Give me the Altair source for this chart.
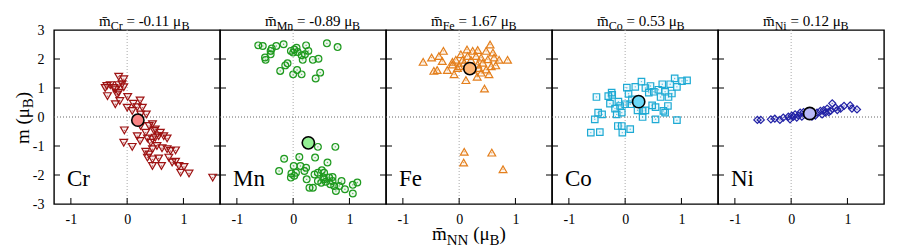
import altair as alt
import pandas as pd

FONT = "Liberation Serif"

ELEMENTS = ["Cr", "Mn", "Fe", "Co", "Ni"]
MEAN_TEXT = ["-0.11", "-0.89", "1.67", "0.53", "0.12"]
MEAN_X = [0.19, 0.27, 0.19, 0.24, 0.33]
MEAN_Y = [-0.11, -0.89, 1.67, 0.53, 0.12]

cr_x = [-0.15, -0.06, -0.36, -0.30, -0.24, -0.15, -0.09, -0.06, -0.39, -0.35, -0.21, -0.18, -0.15,
        -0.21, -0.13, 0.01, 0.11, 0.23, 0.00, 0.09, 0.18, 0.27, 0.34, 0.24, 0.45, 0.39, 0.50, 0.59,
        0.71, -0.05, -0.06, 0.09, 0.18, 0.23, 0.36, 0.45, 0.42, 0.48, 0.56, 0.65, 0.62, 0.77, 0.86,
        0.33, 0.36, 0.45, 0.56, 0.74, 0.80, 0.86, 0.45, 0.61, 0.92, 1.01, 0.95, 1.10, 1.52, 0.39,
        0.24, 0.33, 0.50, 0.53, 0.45, 0.71]
cr_y = [1.39, 1.30, 1.07, 1.10, 1.00, 1.10, 1.13, 1.03, 1.00, 0.72, 0.95, 0.78, 0.84,
        0.44, 0.55, 0.69, 0.46, 0.57, 0.32, 0.21, 0.34, 0.32, 0.09, 0.09, -0.25, -0.31, -0.43, -0.54,
        -0.74, -0.46, -0.89, -1.03, -0.66, -0.83, -0.74, -0.77, -0.89, -0.48, -0.66, -0.66, -1.08, -1.17, -1.15,
        -1.20, -1.40, -1.46, -1.43, -1.40, -1.57, -1.54, -1.69, -1.69, -1.69, -1.72, -1.92, -1.95, -2.09, -1.29,
        -0.31, -0.54, -0.71, -1.00, -1.11, -1.11]

mn_x = [-0.62, -0.54, -0.40, -0.30, -0.17, -0.38, -0.50, -0.49, -0.40, -0.04, 0.02, 0.06, 0.08,
        0.23, 0.27, 0.21, 0.15, 0.17, 0.35, 0.45, 0.60, 0.79, -0.10, -0.14, -0.23, 0.07, 0.00, 0.15,
        0.48, 0.40, 0.00,
        0.44, 0.75, -0.16, 0.11, 0.39, 0.61, -0.25, 0.01, 0.13, 0.23, -0.03, 0.02, -0.04, 0.05, 0.20,
        0.24, 0.38, 0.44, 0.51, 0.55, 0.54, 0.44, 0.50, 0.58, 0.64, 0.70, 0.66, 0.73, 0.76, 0.82,
        0.86, 0.92, 1.06, 1.14, 1.06, 0.29, 0.35, 0.55, 0.70]
mn_y = [2.47, 2.45, 2.28, 2.45, 2.51, 2.36, 2.05, 1.97, 2.16, 2.28, 2.33, 2.39, 2.24,
        2.47, 2.28, 2.16, 2.13, 1.97, 1.97, 2.01, 2.54, 2.41, 1.85, 1.78, 1.59, 1.62, 1.47, 1.47,
        1.53, 1.33, 2.22,
        -1.03, -1.03, -1.44, -1.38, -1.40, -1.57, -1.86, -1.69, -1.69, -1.75, -1.95, -2.03, -2.09, -1.92, -1.86,
        -2.15, -1.98, -1.92, -1.84, -1.92, -2.09, -2.21, -2.27, -2.23, -2.09, -2.07, -2.32, -2.38, -2.55, -2.38,
        -2.21, -2.49, -2.34, -2.26, -2.64, -2.44, -2.44, -2.15, -2.21]

fe_x = [-0.64, -0.49, -0.28, -0.36, -0.30, -0.45, -0.39, -0.21, -0.09, -0.12, -0.06, 0.03, 0.14,
        0.24, 0.33, 0.55, 0.48, 0.60, 0.39, 0.51, 0.71, 0.86, 0.65, 0.53, 0.39, 0.32, 0.12, 0.45,
        0.00, 0.09, 0.21, 0.30, 0.42, 0.57, -0.03, -0.12, 0.06, 0.15, 0.35, 0.48, 0.62, 0.24, 0.33,
        0.09, 0.58, 0.08, 0.78]
fe_y = [1.90, 2.05, 2.28, 2.10, 1.93, 1.59, 1.62, 1.62, 1.47, 1.90, 1.97, 2.16, 2.33,
        2.28, 2.31, 2.50, 2.28, 2.22, 2.05, 1.99, 1.97, 1.97, 1.78, 1.47, 1.53, 1.39, 1.27, 0.98,
        1.75, 1.87, 1.97, 2.10, 1.87, 1.75, 1.69, 1.81, 1.97, 2.10, 1.69, 1.64, 2.05, 1.64, 1.81,
        -1.20, -1.23, -1.57, -1.80]

co_x = [-0.51, -0.30, -0.24, -0.23, -0.27, -0.12, -0.09, -0.18, -0.15, -0.06, -0.48, -0.41, -0.54,
        -0.61, -0.45, -0.13, -0.06, -0.05, 0.09, 0.03, 0.18, 0.29, 0.36, 0.45, 0.51, 0.42, 0.66,
        0.80, 0.88, 1.01, 1.10, 0.92, 0.77, 0.63, 0.48, 0.54, 0.31, 0.22, 0.36, 0.68, 0.71, 0.76,
        0.31, 0.54, 0.92, 0.06, 0.12, 0.71, 0.59, 0.83, 0.09, 0.00]
co_y = [0.69, 0.72, 0.84, 0.76, 0.46, 0.53, 0.38, 0.29, 0.09, 0.15, 0.15, 0.09, -0.08,
        -0.54, -0.52, -0.31, -0.31, -0.54, -0.42, 1.01, 1.04, 1.22, 1.00, 1.07, 0.87, 0.84, 1.13,
        1.13, 1.33, 1.24, 1.26, 1.04, 0.69, 0.69, 0.40, 0.34, 0.21, 0.23, 0.23, 0.21, 0.15, 0.38,
        0.00, -0.08, -0.11, 0.80, 0.61, 0.87, 0.94, 0.81, 0.44, 0.44]

ni_x = [-0.60, -0.54, -0.36, -0.20, -0.14, -0.29, -0.05, 0.01, 0.07, 0.10, 0.16, 0.19, 0.25,
        0.46, 0.52, 0.58, 0.64, 0.73, 0.61, 0.70, 0.79, 0.88, 0.94, 1.05, 1.17, 1.08, 0.55, 0.43,
        0.37, 0.13, 0.22, 0.67, 0.82, 0.04, -0.02]
ni_y = [-0.10, -0.10, -0.08, -0.10, -0.02, -0.06, 0.01, 0.05, 0.09, -0.02, 0.15, 0.01, 0.09,
        0.15, 0.21, 0.24, 0.29, 0.47, 0.15, 0.21, 0.32, 0.29, 0.38, 0.40, 0.26, 0.29, 0.09, 0.05,
        0.01, 0.05, 0.17, 0.17, 0.24, 0.01, -0.08]

XS = [cr_x, mn_x, fe_x, co_x, ni_x]
YS = [cr_y, mn_y, fe_y, co_y, ni_y]
SHAPES = ["triangle-down", "circle", "triangle-up", "square", "diamond"]
SIZES = [60, 46, 60, 42, 50]
COLORS = ["#9e1212", "#1f9a1f", "#e47f1c", "#1eaad4", "#2222a6"]
MEAN_COLORS = ["#f88484", "#94f094", "#ffb878", "#6ad8f8", "#b8b8f6"]

Y_TICKS = [-3, -2, -1, 0, 1, 2, 3]
X_TICKS = [-1, 0, 1]

PW, PH = 166, 174

# Times / Liberation Serif advance widths (em)
CW = {" ": 0.25, "=": 0.564, "-": 0.333, ".": 0.25, "(": 0.333, ")": 0.333, "m": 0.778,
      "C": 0.667, "r": 0.333, "M": 0.889, "n": 0.5, "F": 0.556, "e": 0.444, "o": 0.5,
      "N": 0.722, "i": 0.278, "B": 0.667, "\u03bc": 0.52}


def tw(s, size):
    return sum(CW.get(c, 0.5) for c in s) * size


xsc = alt.Scale(domain=[-1.3, 1.65], nice=False, zero=False)
ysc = alt.Scale(domain=[-3, 3], nice=False, zero=False)


def txt(s, x, y, size, angle=0):
    kw = {}
    if angle:
        kw["angle"] = angle
    return alt.Chart(pd.DataFrame({"t": [s]})).mark_text(
        font=FONT, fontSize=size, align="left", baseline="alphabetic", color="black", **kw
    ).encode(x=alt.value(x), y=alt.value(y), text="t:N")


def panel(i):
    xax = alt.Axis(values=X_TICKS, ticks=False, domain=False, grid=False, labelFont=FONT,
                   labelFontSize=14, labelColor="black", labelPadding=8, title=None,
                   labelExpr="'' + datum.value")
    if i == 0:
        yax = alt.Axis(values=Y_TICKS, ticks=False, domain=False, grid=False, labelFont=FONT,
                       labelFontSize=14, labelColor="black", labelPadding=10, title=None,
                       labelExpr="'' + datum.value")
    else:
        yax = None
    X = alt.X("x:Q", scale=xsc, axis=xax)
    Y = alt.Y("y:Q", scale=ysc, axis=yax)

    layers = []
    layers.append(alt.Chart(pd.DataFrame({"x": [0]})).mark_rule(
        color="#aaaaaa", strokeDash=[1, 2], strokeWidth=1).encode(x=X))
    layers.append(alt.Chart(pd.DataFrame({"y": [0]})).mark_rule(
        color="#666666", strokeDash=[1, 2], strokeWidth=1).encode(y=Y))
    inner_y = pd.DataFrame({"y": [v for v in Y_TICKS if abs(v) in (1, 2)]})
    layers.append(alt.Chart(inner_y).mark_rule(color="black", strokeWidth=1).encode(
        y=Y, x=alt.value(0), x2=alt.value(6)))
    layers.append(alt.Chart(inner_y).mark_rule(color="black", strokeWidth=1).encode(
        y=Y, x=alt.value(PW - 6), x2=alt.value(PW)))
    layers.append(alt.Chart(pd.DataFrame({"x": X_TICKS})).mark_rule(color="black", strokeWidth=1).encode(
        x=X, y=alt.value(PH - 6), y2=alt.value(PH)))

    df = pd.DataFrame({"x": XS[i], "y": YS[i]})
    layers.append(alt.Chart(df).mark_point(
        shape=SHAPES[i], size=SIZES[i], filled=True, fill=COLORS[i], fillOpacity=0.08,
        stroke=COLORS[i], strokeWidth=1.2, strokeOpacity=1, opacity=1).encode(x=X, y=Y))
    layers.append(alt.Chart(df).mark_point(
        shape="circle", size=2, filled=True, fill=COLORS[i], opacity=0.7).encode(x=X, y=Y))
    mdf = pd.DataFrame({"x": [MEAN_X[i]], "y": [MEAN_Y[i]]})
    layers.append(alt.Chart(mdf).mark_point(
        shape="circle", size=150, filled=True, fill=MEAN_COLORS[i], stroke="black",
        strokeWidth=1.6, opacity=1, fillOpacity=1).encode(x=X, y=Y))

    # element label
    layers.append(txt(ELEMENTS[i], 13, 156, 23))

    # panel title: m̄_El = val μ_B
    sp15 = tw(" ", 15)
    x0 = 45
    yb = -4
    layers.append(txt("m\u0304", x0, yb, 15))
    x1 = x0 + tw("m", 15)
    layers.append(txt(ELEMENTS[i], x1, yb + 4, 12))
    x2 = x1 + tw(ELEMENTS[i], 12) + sp15
    mid = "= " + MEAN_TEXT[i] + " \u03bc"
    layers.append(txt(mid, x2, yb, 15))
    x3 = x2 + tw(mid, 15)
    layers.append(txt("B", x3, yb + 4, 12))

    if i == 0:
        # y axis title m (μ_B), rotated
        bx = -25
        y0 = 114
        p1 = "m (\u03bc"
        layers.append(txt(p1, bx, y0, 19, angle=270))
        ya = y0 - tw(p1, 19)
        layers.append(txt("B", bx + 4, ya, 15, angle=270))
        yc = ya - tw("B", 15)
        layers.append(txt(")", bx, yc, 19, angle=270))
    if i == 2:
        # x axis title m̄_NN (μ_B)
        x0 = 46
        yb = 210
        layers.append(txt("m\u0304", x0, yb, 19))
        xa = x0 + tw("m", 19)
        layers.append(txt("NN", xa, yb + 5, 15))
        xb = xa + tw("NN", 15) + tw(" ", 19)
        layers.append(txt("(\u03bc", xb, yb, 19))
        xc = xb + tw("(\u03bc", 19)
        layers.append(txt("B", xc, yb + 5, 15))
        xd = xc + tw("B", 15)
        layers.append(txt(")", xd, yb, 19))

    return alt.layer(*layers).properties(width=PW, height=PH)


chart = alt.hconcat(*[panel(i) for i in range(5)], spacing=0, bounds="flush").configure(
    padding={"left": 5, "top": 5, "right": 5, "bottom": 0}
).configure_view(stroke="black", strokeWidth=1.4)

chart.save("out.html", embed_options={"renderer": "svg", "actions": False})
